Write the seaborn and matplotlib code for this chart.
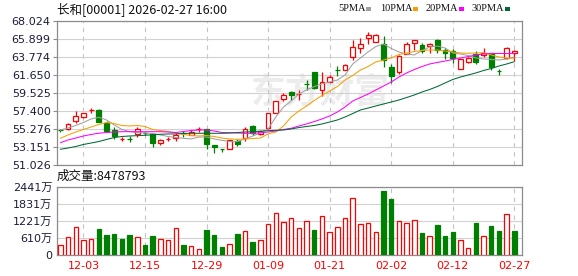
import matplotlib
matplotlib.use("Agg")
import matplotlib.pyplot as plt
import seaborn as sns
import numpy as np
import pandas as pd
from matplotlib.patches import Rectangle

title = "长和[00001] 2026-02-27 16:00"
ma_names = ["5PMA", "10PMA", "20PMA", "30PMA"]
ma_colors = ["#a0a0a0", "#f5a000", "#ff00ff", "#006a35"]
up_color = "#ff0000"
down_color = "#008000"

opens = [55.16,55.31,56.25,56.66,57.49,57.52,55.95,55.16,54.12,54.07,
         54.69,54.78,54.69,53.59,54.05,54.21,54.78,54.60,55.23,55.24,
         53.35,52.96,52.95,53.89,54.21,55.63,54.69,55.39,57.20,58.78,
         59.61,59.38,60.56,62.04,59.84,60.86,62.22,62.28,63.78,64.87,
         66.05,65.58,65.35,62.59,62.04,64.13,65.39,65.23,65.07,65.78,
         64.60,64.52,62.39,63.19,64.13,63.98,64.21,62.17,63.66,64.28]
closes = [55.12,55.87,56.81,57.13,57.52,56.10,55.08,54.45,54.14,54.05,
          55.31,54.76,53.59,53.98,54.07,54.53,54.76,54.92,55.25,53.51,
          53.12,52.94,53.98,53.51,55.24,54.77,55.00,57.13,58.62,59.25,
          59.29,59.41,60.54,60.15,60.79,61.41,62.19,62.83,64.96,65.27,
          66.37,66.37,63.39,61.57,63.93,65.31,65.78,64.52,65.31,64.60,
          64.21,63.66,63.50,63.66,63.19,64.28,62.63,62.15,64.84,64.52]
highs = [55.33,56.02,57.37,57.20,57.75,57.60,56.19,55.55,54.37,54.45,
         55.48,54.92,54.84,54.13,54.30,54.77,55.00,55.16,55.48,55.31,
         53.35,52.96,53.98,54.13,55.48,55.71,55.08,57.13,58.62,59.49,
         59.76,59.84,61.02,62.04,62.04,61.65,62.75,62.98,65.75,65.98,
         66.76,66.53,66.22,62.91,64.01,65.55,65.78,65.39,65.37,65.94,
         64.84,64.75,63.66,63.74,64.45,64.84,64.28,62.39,64.92,64.60]
lows = [54.92,55.16,55.95,56.57,57.20,56.10,54.92,54.06,53.89,53.74,
        54.37,54.53,53.19,53.35,53.82,53.82,54.37,54.53,54.92,52.95,
        52.48,52.56,52.95,53.27,53.89,54.60,54.60,55.31,57.20,58.62,
        58.66,58.66,59.84,60.00,59.14,60.77,61.57,62.20,63.46,64.25,
        65.35,65.51,62.59,60.71,61.80,64.07,64.60,64.21,64.28,64.21,
        63.50,63.03,62.39,63.03,62.95,63.81,62.24,61.69,63.57,63.34]

ma5 = [55.16,55.39,55.69,56.04,56.46,56.66,56.34,55.75,55.22,54.98,
       54.84,54.80,54.75,54.57,54.39,54.27,54.18,54.10,54.33,54.33,
       54.10,53.94,53.80,53.80,54.10,54.45,54.80,55.28,56.69,57.87,
       58.58,59.41,59.88,60.29,60.59,60.82,61.06,61.65,62.95,63.66,
       64.37,65.01,65.31,64.78,64.37,64.13,64.01,64.54,64.96,65.07,
       64.84,64.25,64.13,63.95,63.66,63.54,63.48,63.42,63.54,63.78]
ma10 = [54.18,54.57,54.92,55.22,55.51,55.81,56.04,55.92,55.69,55.63,
        55.69,55.57,55.22,55.10,54.98,54.80,54.63,54.51,54.45,54.51,
        54.39,54.21,54.10,54.06,54.10,54.15,54.21,54.69,54.92,55.63,
        56.69,57.40,57.99,58.64,59.23,59.76,60.29,61.06,61.59,62.24,
        62.65,63.19,63.42,63.66,64.07,64.25,64.42,64.54,64.60,64.60,
        64.48,64.37,64.25,64.21,64.25,64.28,64.01,63.78,63.66,63.62]
ma20 = [53.66,53.98,54.21,54.45,54.63,54.78,54.86,54.92,54.96,54.96,
        54.96,54.96,54.96,54.96,54.92,54.86,54.98,55.10,55.16,55.16,
        55.04,54.86,54.84,54.80,54.77,54.77,54.83,54.92,55.04,55.22,
        55.36,55.63,55.87,56.16,56.46,56.81,57.28,57.87,58.58,58.99,
        59.41,59.88,60.35,60.82,61.41,61.89,62.30,62.65,62.95,63.13,
        63.30,63.48,63.66,63.83,64.01,64.13,64.19,64.19,64.19,64.19]
ma30 = [52.88,53.03,53.21,53.45,53.62,53.80,54.04,54.27,54.39,54.45,
        54.49,54.53,54.60,54.65,54.69,54.69,54.75,54.77,54.77,54.77,
        54.77,54.77,54.80,54.86,54.92,54.96,55.02,55.08,55.12,55.16,
        55.28,55.45,55.57,55.69,55.87,56.10,56.34,56.69,57.10,57.52,
        57.75,57.99,58.23,58.46,58.70,58.99,59.29,59.64,59.94,60.29,
        60.71,61.12,61.41,61.65,61.89,62.18,62.42,62.71,62.95,63.22]

volume = [357,631,988,536,560,929,714,750,572,714,
          631,357,679,560,536,953,357,310,202,893,
          714,286,381,750,845,476,536,1107,1488,1179,
          1310,953,1203,893,1381,822,988,1310,2024,1107,
          1131,822,2286,2000,1203,1131,1238,786,667,1072,
          679,822,524,238,1143,667,1036,857,1453,848]
vol_up = [1,1,1,1,1,0,0,0,0,0,1,0,0,1,1,1,0,1,1,0,
          0,0,1,0,1,0,1,1,1,1,1,1,1,0,1,1,1,1,1,1,
          1,1,0,0,1,1,1,0,1,0,0,0,1,1,0,1,0,0,1,0]

price_tick_labels = ["68.024","65.899","63.774","61.650","59.525",
                     "57.400","55.276","53.151","51.026"]
vol_ticks = [0, 610, 1221, 1831, 2441]
vol_tick_labels = ["0", "610万", "1221万", "1831万", "2441万"]
date_labels = ["12-03","12-15","12-29","01-09","01-21","02-02","02-12","02-27"]
date_idx = [3, 11, 19, 27, 35, 43, 51, 59]
volume_text = "成交量:8478793"

sns.set_theme(style="white")
plt.rcParams["font.family"] = ["DejaVu Sans", "Noto Sans CJK SC"]
plt.rcParams["axes.unicode_minus"] = False

W, H = 578, 276
fig = plt.figure(figsize=(W / 100, H / 100), dpi=100)
fig.patch.set_facecolor("white")

ax_p = fig.add_axes([56.5 / W, (H - 165) / H, 465.5 / W, 144 / H])
ax_v = fig.add_axes([56.5 / W, (H - 255) / H, 465.5 / W, 68.3 / H])

idx = np.arange(len(opens))
df = pd.DataFrame({"i": idx, "open": opens, "close": closes, "high": highs,
                   "low": lows, "ma5": ma5, "ma10": ma10, "ma20": ma20,
                   "ma30": ma30, "vol": volume, "vup": vol_up})

frame_col = "#8c8c8c"
grid_col = "#d2d2d2"
lab_col = "#1c1c3c"

for ax in (ax_p, ax_v):
    ax.set_facecolor("white")
    for s in ax.spines.values():
        s.set_color(frame_col)
        s.set_linewidth(0.9)
    ax.set_xlim(-0.5, 60.0)
    ax.set_xticks(date_idx)
    ax.grid(axis="x", color="#c4c4c4", linestyle=(0, (4, 4)), linewidth=0.8)
    ax.grid(axis="y", color=grid_col, linestyle="-", linewidth=0.8)
    ax.set_axisbelow(True)

# watermark
ax_p.text(320 / W, 1 - 92 / H, "东方财富", transform=fig.transFigure,
          fontsize=25, color="#ececec", fontweight="bold", ha="center",
          va="center", zorder=0.5, family=["Noto Sans CJK SC"])

# candles
for r in df.itertuples():
    up = r.close >= r.open
    col = up_color if up else down_color
    ax_p.vlines(r.i, r.low, r.high, color=col, linewidth=0.9, zorder=2)
    bottom = min(r.open, r.close)
    height = max(abs(r.close - r.open), 0.005)
    ax_p.bar(r.i, height, bottom=bottom, width=0.62,
             facecolor="white" if up else col, edgecolor=col,
             linewidth=0.9, zorder=3)

# moving averages
for name, col, c in zip(ma_names, ma_colors, ["ma5", "ma10", "ma20", "ma30"]):
    sns.lineplot(data=df, x="i", y=c, color=col, linewidth=0.75, ax=ax_p,
                 zorder=4, legend=False)

ptick = [float(t) for t in price_tick_labels]
ax_p.set_ylim(min(ptick), max(ptick))
ax_p.set_yticks(ptick)
ax_p.set_yticklabels(price_tick_labels)
ax_p.set_xticklabels([])
ax_p.set_xlabel("")
ax_p.set_ylabel("")
ax_p.tick_params(axis="y", length=3.2, width=0.8, color=frame_col, pad=1,
                 labelsize=8, labelcolor=lab_col, left=True)
ax_p.tick_params(axis="x", length=0)

# volume
for r in df.itertuples():
    col = up_color if r.vup else down_color
    ax_v.bar(r.i, r.vol, width=0.58, facecolor="white" if r.vup else col,
             edgecolor=col, linewidth=0.9, zorder=3)
ax_v.set_ylim(0, max(vol_ticks))
ax_v.set_yticks(vol_ticks)
ax_v.set_yticklabels(vol_tick_labels)
ax_v.set_xticklabels(date_labels)
ax_v.tick_params(axis="y", length=0, pad=3, labelsize=8, labelcolor=lab_col)
ax_v.tick_params(axis="x", length=0, pad=4, labelsize=8, labelcolor=up_color)

# header texts
fig.text(57 / W, 1 - 9 / H, title, fontsize=9, va="center", ha="left",
         color="#111111", family=["Noto Sans CJK SC", "DejaVu Sans"])
fig.text(57 / W, 1 - 176.7 / H, volume_text, fontsize=9, va="center",
         ha="left", color="#111111", family=["Noto Sans CJK SC", "DejaVu Sans"])

leg_x = [338, 380, 425.5, 471.5]
sq_x = [366, 413, 459, 505]
for name, col, tx, sx in zip(ma_names, ma_colors, leg_x, sq_x):
    fig.text(tx / W, 1 - 8.7 / H, name, fontsize=7.5, va="center", ha="left",
             color="#111111", family=["Liberation Serif"])
    fig.patches.append(Rectangle((sx / W, 1 - 10.7 / H), 5 / W, 4 / H,
                                 transform=fig.transFigure, facecolor=col,
                                 edgecolor="none"))

fig.savefig("out.png", dpi=100, facecolor="white")
